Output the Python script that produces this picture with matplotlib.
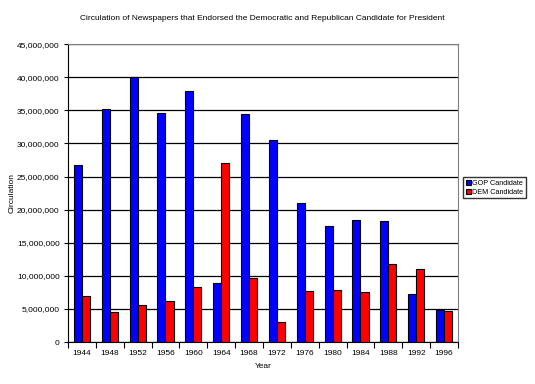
import numpy as np
import matplotlib
matplotlib.use("Agg")
import matplotlib.pyplot as plt
from matplotlib.ticker import FuncFormatter, MultipleLocator

plt.rcParams['font.family'] = ['Liberation Sans', 'DejaVu Sans']

years = ['1944', '1948', '1952', '1956', '1960', '1964', '1968', '1972',
         '1976', '1980', '1984', '1988', '1992', '1996']
gop = [26.7, 35.2, 40.1, 34.6, 38.0, 9.0, 34.5, 30.5,
       21.0, 17.5, 18.4, 18.3, 7.2, 4.8]
dem = [6.9, 4.5, 5.6, 6.2, 8.4, 27.0, 9.7, 3.0,
       7.7, 7.9, 7.5, 11.8, 11.0, 4.7]
gop = [v * 1e6 for v in gop]
dem = [v * 1e6 for v in dem]

fig = plt.figure(figsize=(5.35, 3.84), dpi=100)
ax = fig.add_axes([0.127, 0.109, 0.729, 0.776])

x = np.arange(len(years))
w = 0.29
ax.bar(x - w / 2, gop, w, color='#0000ff', edgecolor='black', linewidth=0.8,
       label='GOP Candidate', zorder=3)
ax.bar(x + w / 2, dem, w, color='#ff0000', edgecolor='black', linewidth=0.8,
       label='DEM Candidate', zorder=3)

ax.set_xlim(-0.5, len(years) - 0.5)
ax.set_ylim(0, 45e6)
ax.yaxis.set_major_locator(MultipleLocator(5e6))
ax.yaxis.set_major_formatter(FuncFormatter(lambda v, p: '{:,.0f}'.format(v)))
ax.yaxis.grid(True, color='black', linewidth=0.9, zorder=0)

ax.set_xticks(x)
ax.set_xticklabels(years)
ax.set_xticks(np.arange(-0.5, len(years)), minor=True)
ax.tick_params(axis='x', which='major', length=0, labelsize=6, pad=6)
ax.tick_params(axis='x', which='minor', length=4, width=0.8, direction='out')
ax.tick_params(axis='y', length=3, width=0.8, labelsize=6, pad=3)

for s in ['top', 'right']:
    ax.spines[s].set_color('#808080')
for s in ['left', 'bottom']:
    ax.spines[s].set_color('black')

ax.set_xlabel('Year', fontsize=6, labelpad=4)
ax.set_ylabel('Circulation', fontsize=6)
ax.yaxis.set_label_coords(-0.135, 0.5)
fig.text(0.49, 0.953, 'Circulation of Newspapers that Endorsed the Democratic and Republican Candidate for President',
         ha='center', va='center', fontsize=6)

ax.legend(loc='center left', bbox_to_anchor=(1.01, 0.518), fontsize=5.2,
          frameon=True, fancybox=False, edgecolor='black', handlelength=0.7,
          handleheight=0.7, handletextpad=0.2, borderpad=0.35, labelspacing=0.3,
          borderaxespad=0.2)

fig.savefig('out.png', dpi=100)
